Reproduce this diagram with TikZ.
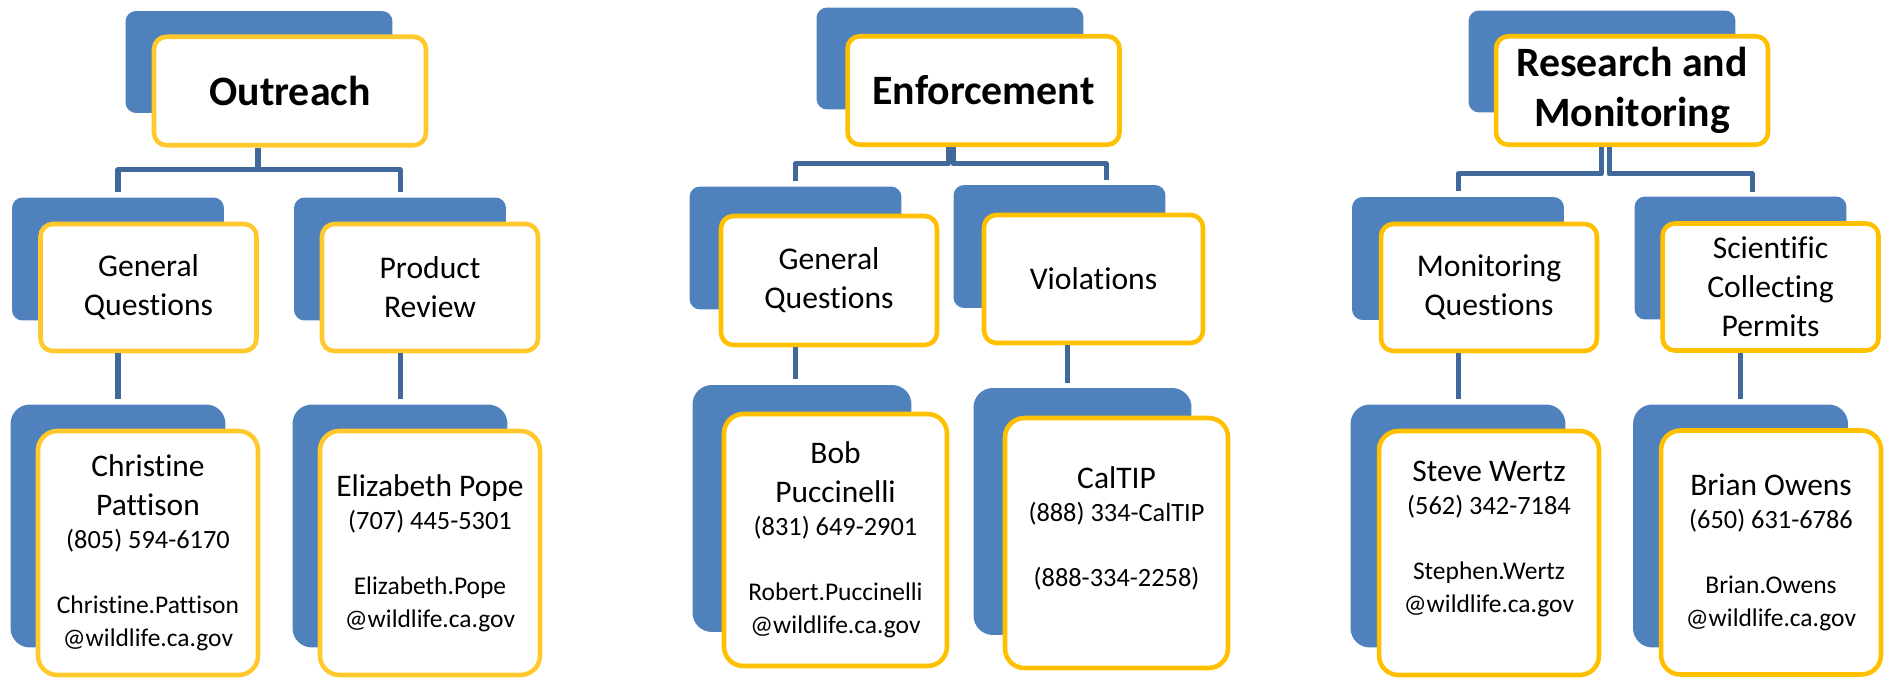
\documentclass[tikz,border=0pt]{standalone}
\usepackage{fontspec}
\setmainfont{Carlito}[Ligatures={NoCommon,NoRare,NoContextual}]
\definecolor{backblue}{HTML}{4F81BD}
\definecolor{linkblue}{HTML}{41689B}
\definecolor{goldA}{HTML}{FFC92E}
\definecolor{goldB}{HTML}{FFC000}
\newcommand\phonefont{\fontsize{15}{18.8}\selectfont}
\newcommand\mailfont{\fontsize{14.5}{18.8}\selectfont}
\begin{document}
\begin{tikzpicture}[x=0.02cm,y=-0.02cm,line cap=butt,line join=round,
	back/.style={fill=backblue,inner sep=0pt},
	backtop/.style={back,minimum width=5.34cm,minimum height=2.04cm,rounded corners=6pt},
	backmid/.style={back,minimum width=4.24cm,minimum height=2.46cm,rounded corners=6pt},
	backlow/.style={back,minimum width=4.3cm,minimum height=4.86cm,rounded corners=11pt},
	card/.style={draw=goldB,fill=white,line width=2.6pt,inner sep=0pt,align=center},
	cardtop/.style={card,minimum width=5.44cm,minimum height=2.17cm,rounded corners=7pt,font=\fontsize{23.8}{28.8}\selectfont\bfseries},
	cardmid/.style={card,minimum width=4.32cm,minimum height=2.54cm,rounded corners=7pt,font=\fontsize{18}{22.2}\selectfont},
	cardlow/.style={card,minimum width=4.4cm,minimum height=4.88cm,rounded corners=11pt,font=\fontsize{17.9}{18.8}\selectfont},
	link/.style={draw=linkblue,line width=2.85pt}]
	\useasboundingbox (0,0) rectangle (1887,678);
	
	\node[backtop] (outb) at (259,62) {};
	\node[cardtop,draw=goldA] (out) at (290,91) {Outreach};
	\node[backmid] (gqob) at (118,259) {};
	\node[cardmid,draw=goldA] (gqo) at (148.5,287.5) {General\\Questions};
	\node[backmid] (prb) at (400,259) {};
	\node[cardmid,draw=goldA] (pr) at (430,287.5) {Product\\Review};
	\node[backlow] (cpb) at (118,526) {};
	\node[cardlow,draw=goldA] (cp) at (148,553) {Christine\\[3.2pt]Pattison\\{\phonefont (805) 594-6170}\\[18.2pt]{\mailfont Christine.Pattison}\\{\mailfont @wildlife.ca.gov}};
	\node[backlow] (epb) at (400,526) {};
	\node[cardlow,draw=goldA] (ep) at (430,553) {Elizabeth Pope\\{\phonefont (707) 445-5301}\\[18.2pt]{\mailfont Elizabeth.Pope}\\{\mailfont @wildlife.ca.gov}};
	
	\node[backtop] (enfb) at (950,58.5) {};
	\node[cardtop] (enf) at (983.5,90.5) {Enforcement};
	\node[backmid] (gqeb) at (795.5,248) {};
	\node[cardmid,minimum height=2.58cm] (gqe) at (829,280.5) {General\\Questions};
	\node[backmid] (viob) at (1059.5,246.5) {};
	\node[cardmid,minimum width=4.38cm,minimum height=2.56cm] (vio) at (1093.5,279) {Violations};
	\node[backlow,minimum width=4.38cm,minimum height=4.94cm] (bobb) at (802,508.5) {};
	\node[cardlow,minimum width=4.46cm,minimum height=5.04cm] (bob) at (835.5,540) {Bob\\[3.2pt]Puccinelli\\{\phonefont (831) 649-2901}\\[18.2pt]{\mailfont Robert.Puccinelli}\\{\mailfont @wildlife.ca.gov}};
	\node[backlow,minimum width=4.36cm,minimum height=4.94cm] (calb) at (1082.5,511.5) {};
	\node[cardlow,minimum width=4.46cm,minimum height=5cm] (cal) at (1116.5,543) {CalTIP\\{\phonefont (888) 334-CalTIP}\\[18.2pt]{\phonefont (888-334-2258)}\\~};
	
	\node[backtop] (rmb) at (1602,61.5) {};
	\node[cardtop] (rm) at (1632,90.5) {Research and\\Monitoring};
	\node[backmid] (mqb) at (1458,258.5) {};
	\node[cardmid] (mq) at (1489,287.5) {Monitoring\\Questions};
	\node[backmid] (scpb) at (1740.5,258) {};
	\node[cardmid] (scp) at (1770.5,287) {Scientific\\Collecting\\Permits};
	\node[backlow] (swb) at (1458,526) {};
	\node[cardlow] (sw) at (1489,553) {Steve Wertz\\{\phonefont (562) 342-7184}\\[18.2pt]{\mailfont Stephen.Wertz}\\{\mailfont @wildlife.ca.gov}\\~};
	\node[backlow] (bob3) at (1740.5,526) {};
	\node[cardlow] (bo) at (1771,552.5) {Brian Owens\\{\phonefont (650) 631-6786}\\[18.2pt]{\mailfont Brian.Owens}\\{\mailfont @wildlife.ca.gov}};
	
	\coordinate (outj) at (258,170);
	\draw[link,shorten >=0.11cm] (outj |- out.south) -- (outj) -| (gqob.north);
	\draw[link,shorten >=0.11cm] (outj) -| (prb.north);
	\draw[link,shorten >=0.11cm] (cpb.north |- gqo.south) -- (cpb.north);
	\draw[link,shorten >=0.11cm] (epb.north |- pr.south) -- (epb.north);
	
	\coordinate (enfl) at (948,164);
	\coordinate (enfr) at (953,164);
	\coordinate (viot) at (1106,180);
	\coordinate (gqed) at (795,379);
	\coordinate (viod) at (1067.5,383);
	\draw[link,shorten >=0.11cm] (enfl |- enf.south) -- (enfl) -| (gqeb.north);
	\draw[link] (enfr |- enf.south) -- (enfr) -| (viot);
	\draw[link] (gqed |- gqe.south) -- (gqed);
	\draw[link] (viod |- vio.south) -- (viod);
	
	\coordinate (rml) at (1601,174);
	\coordinate (rmr) at (1609,174);
	\coordinate (scpt) at (1752,192);
	\draw[link,shorten >=0.11cm] (rml |- rm.south) -- (rml) -| (mqb.north);
	\draw[link] (rmr |- rm.south) -- (rmr) -| (scpt);
	\draw[link,shorten >=0.11cm] (swb.north |- mq.south) -- (swb.north);
	\draw[link,shorten >=0.11cm] (bob3.north |- scp.south) -- (bob3.north);
\end{tikzpicture}
\end{document}
